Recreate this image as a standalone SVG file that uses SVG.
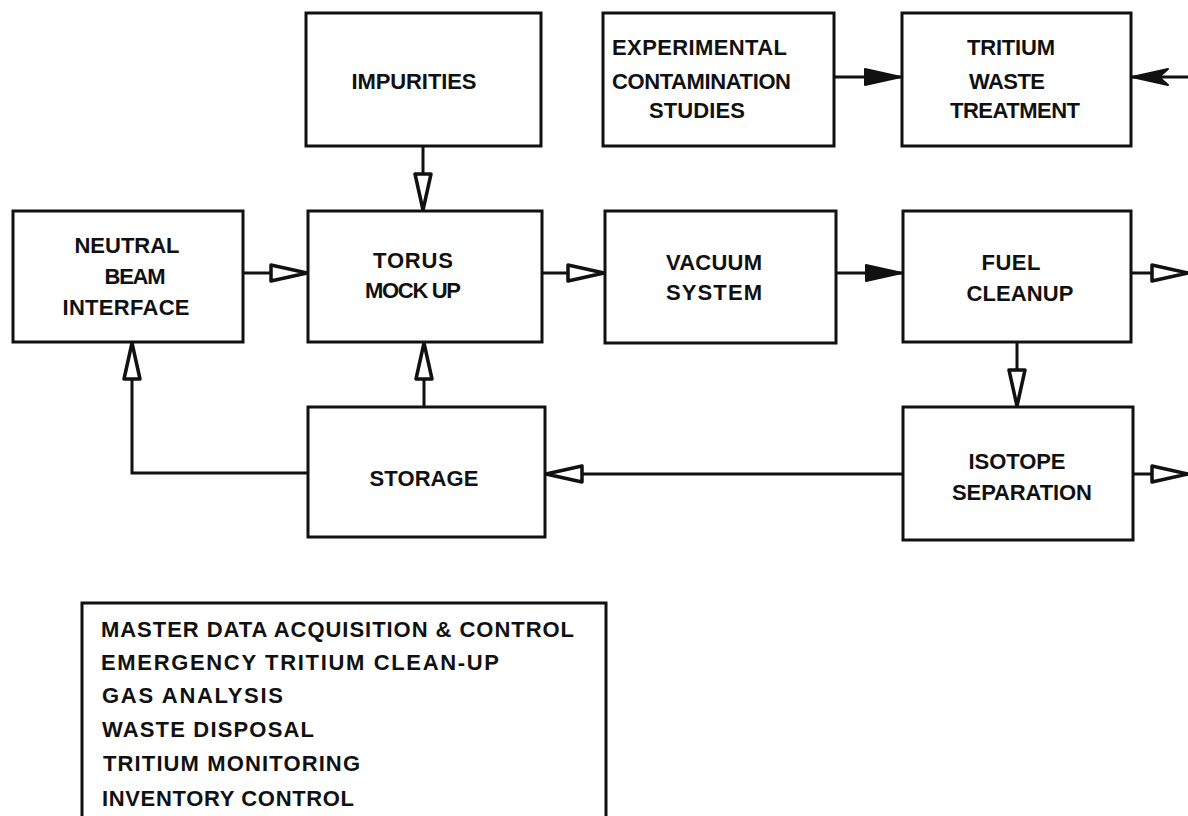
<svg xmlns="http://www.w3.org/2000/svg" width="1188" height="816" viewBox="0 0 1188 816">
<style>
.box{fill:#fff;stroke:#111;stroke-width:3}
.lbl{font-family:"Liberation Sans",Arial,sans-serif;font-weight:bold;font-size:22px;fill:#111}
.c{text-anchor:middle}
.lst{font-family:"Liberation Sans",Arial,sans-serif;font-weight:bold;font-size:22px;fill:#111}
.ln{fill:none;stroke:#111;stroke-width:3}
</style>
<defs>
<marker id="open" markerUnits="userSpaceOnUse" viewBox="-3 -3 42 24" markerWidth="42" markerHeight="24" refX="36" refY="9" orient="auto">
<path d="M0,1 L36,9 L0,17 Z" fill="#fff" stroke="#111" stroke-width="3.5" stroke-linejoin="round"/>
</marker>
<marker id="solid" markerUnits="userSpaceOnUse" viewBox="-3 -3 42 24" markerWidth="42" markerHeight="24" refX="36" refY="9" orient="auto">
<path d="M0,1 L36,9 L0,17 Z" fill="#111" stroke="#111" stroke-width="2" stroke-linejoin="round"/>
</marker>
<marker id="barb" markerUnits="userSpaceOnUse" viewBox="-3 -3 42 24" markerWidth="42" markerHeight="24" refX="36" refY="9" orient="auto">
<path d="M0,1 L36,9 L0,17 L9,9 Z" fill="#111" stroke="#111" stroke-width="2" stroke-linejoin="round"/>
</marker>
</defs>

<g id="connectors">
<path class="ln" d="M423,146 V210" marker-end="url(#open)"/>
<path class="ln" d="M243,273 H307" marker-end="url(#open)"/>
<path class="ln" d="M542,273 H604" marker-end="url(#open)"/>
<path class="ln" d="M836,273 H902" marker-end="url(#solid)"/>
<path class="ln" d="M1131,273 H1188" marker-end="url(#open)"/>
<path class="ln" d="M1017,342 V406" marker-end="url(#open)"/>
<path class="ln" d="M903,474 H546" marker-end="url(#open)"/>
<path class="ln" d="M1133,474 H1188" marker-end="url(#open)"/>
<path class="ln" d="M424,407 V343" marker-end="url(#open)"/>
<path class="ln" d="M308,473 H132 V343" marker-end="url(#open)"/>
<path class="ln" d="M834,77 H901" marker-end="url(#solid)"/>
<path class="ln" d="M1188,77 H1132" marker-end="url(#barb)"/>
</g>

<g id="impurities">
<rect class="box" x="306" y="13" width="235" height="133"/>
<text class="lbl c" x="414" y="89" textLength="125">IMPURITIES</text>
</g>
<g id="experimental">
<rect class="box" x="603" y="13" width="231" height="133"/>
<text class="lbl" x="612" y="55" textLength="175">EXPERIMENTAL</text>
<text class="lbl" x="612" y="89" textLength="179">CONTAMINATION</text>
<text class="lbl c" x="697" y="118" textLength="96">STUDIES</text>
</g>
<g id="tritium-waste">
<rect class="box" x="902" y="13" width="229" height="133"/>
<text class="lbl c" x="1011" y="55" textLength="88">TRITIUM</text>
<text class="lbl c" x="1007" y="89" textLength="76">WASTE</text>
<text class="lbl c" x="1015" y="118" textLength="130">TREATMENT</text>
</g>
<g id="neutral-beam">
<rect class="box" x="13" y="211" width="230" height="131"/>
<text class="lbl c" x="127" y="253" textLength="105">NEUTRAL</text>
<text class="lbl c" x="135" y="284" textLength="61">BEAM</text>
<text class="lbl c" x="126" y="315" textLength="127">INTERFACE</text>
</g>
<g id="torus">
<rect class="box" x="308" y="211" width="234" height="131"/>
<text class="lbl c" x="413" y="268" textLength="80">TORUS</text>
<text class="lbl c" x="413" y="298" textLength="96">MOCK UP</text>
</g>
<g id="vacuum">
<rect class="box" x="605" y="211" width="231" height="132"/>
<text class="lbl c" x="714" y="270" textLength="96">VACUUM</text>
<text class="lbl c" x="714" y="300" textLength="96">SYSTEM</text>
</g>
<g id="fuel-cleanup">
<rect class="box" x="903" y="211" width="228" height="131"/>
<text class="lbl c" x="1011" y="270" textLength="59">FUEL</text>
<text class="lbl c" x="1020" y="301" textLength="107">CLEANUP</text>
</g>
<g id="storage">
<rect class="box" x="308" y="407" width="237" height="130"/>
<text class="lbl c" x="424" y="486" textLength="109">STORAGE</text>
</g>
<g id="isotope">
<rect class="box" x="903" y="407" width="230" height="133"/>
<text class="lbl c" x="1017" y="469" textLength="97">ISOTOPE</text>
<text class="lbl c" x="1022" y="500" textLength="140">SEPARATION</text>
</g>
<g id="systems-list">
<rect class="box" x="82" y="603" width="524" height="240"/>
<text class="lst" x="101" y="637" textLength="473">MASTER DATA ACQUISITION &amp; CONTROL</text>
<text class="lst" x="101" y="670" textLength="398">EMERGENCY TRITIUM CLEAN-UP</text>
<text class="lst" x="102" y="703" textLength="181">GAS ANALYSIS</text>
<text class="lst" x="102" y="737" textLength="212">WASTE DISPOSAL</text>
<text class="lst" x="103" y="771" textLength="257">TRITIUM MONITORING</text>
<text class="lst" x="102" y="806" textLength="252">INVENTORY CONTROL</text>
</g>
</svg>
